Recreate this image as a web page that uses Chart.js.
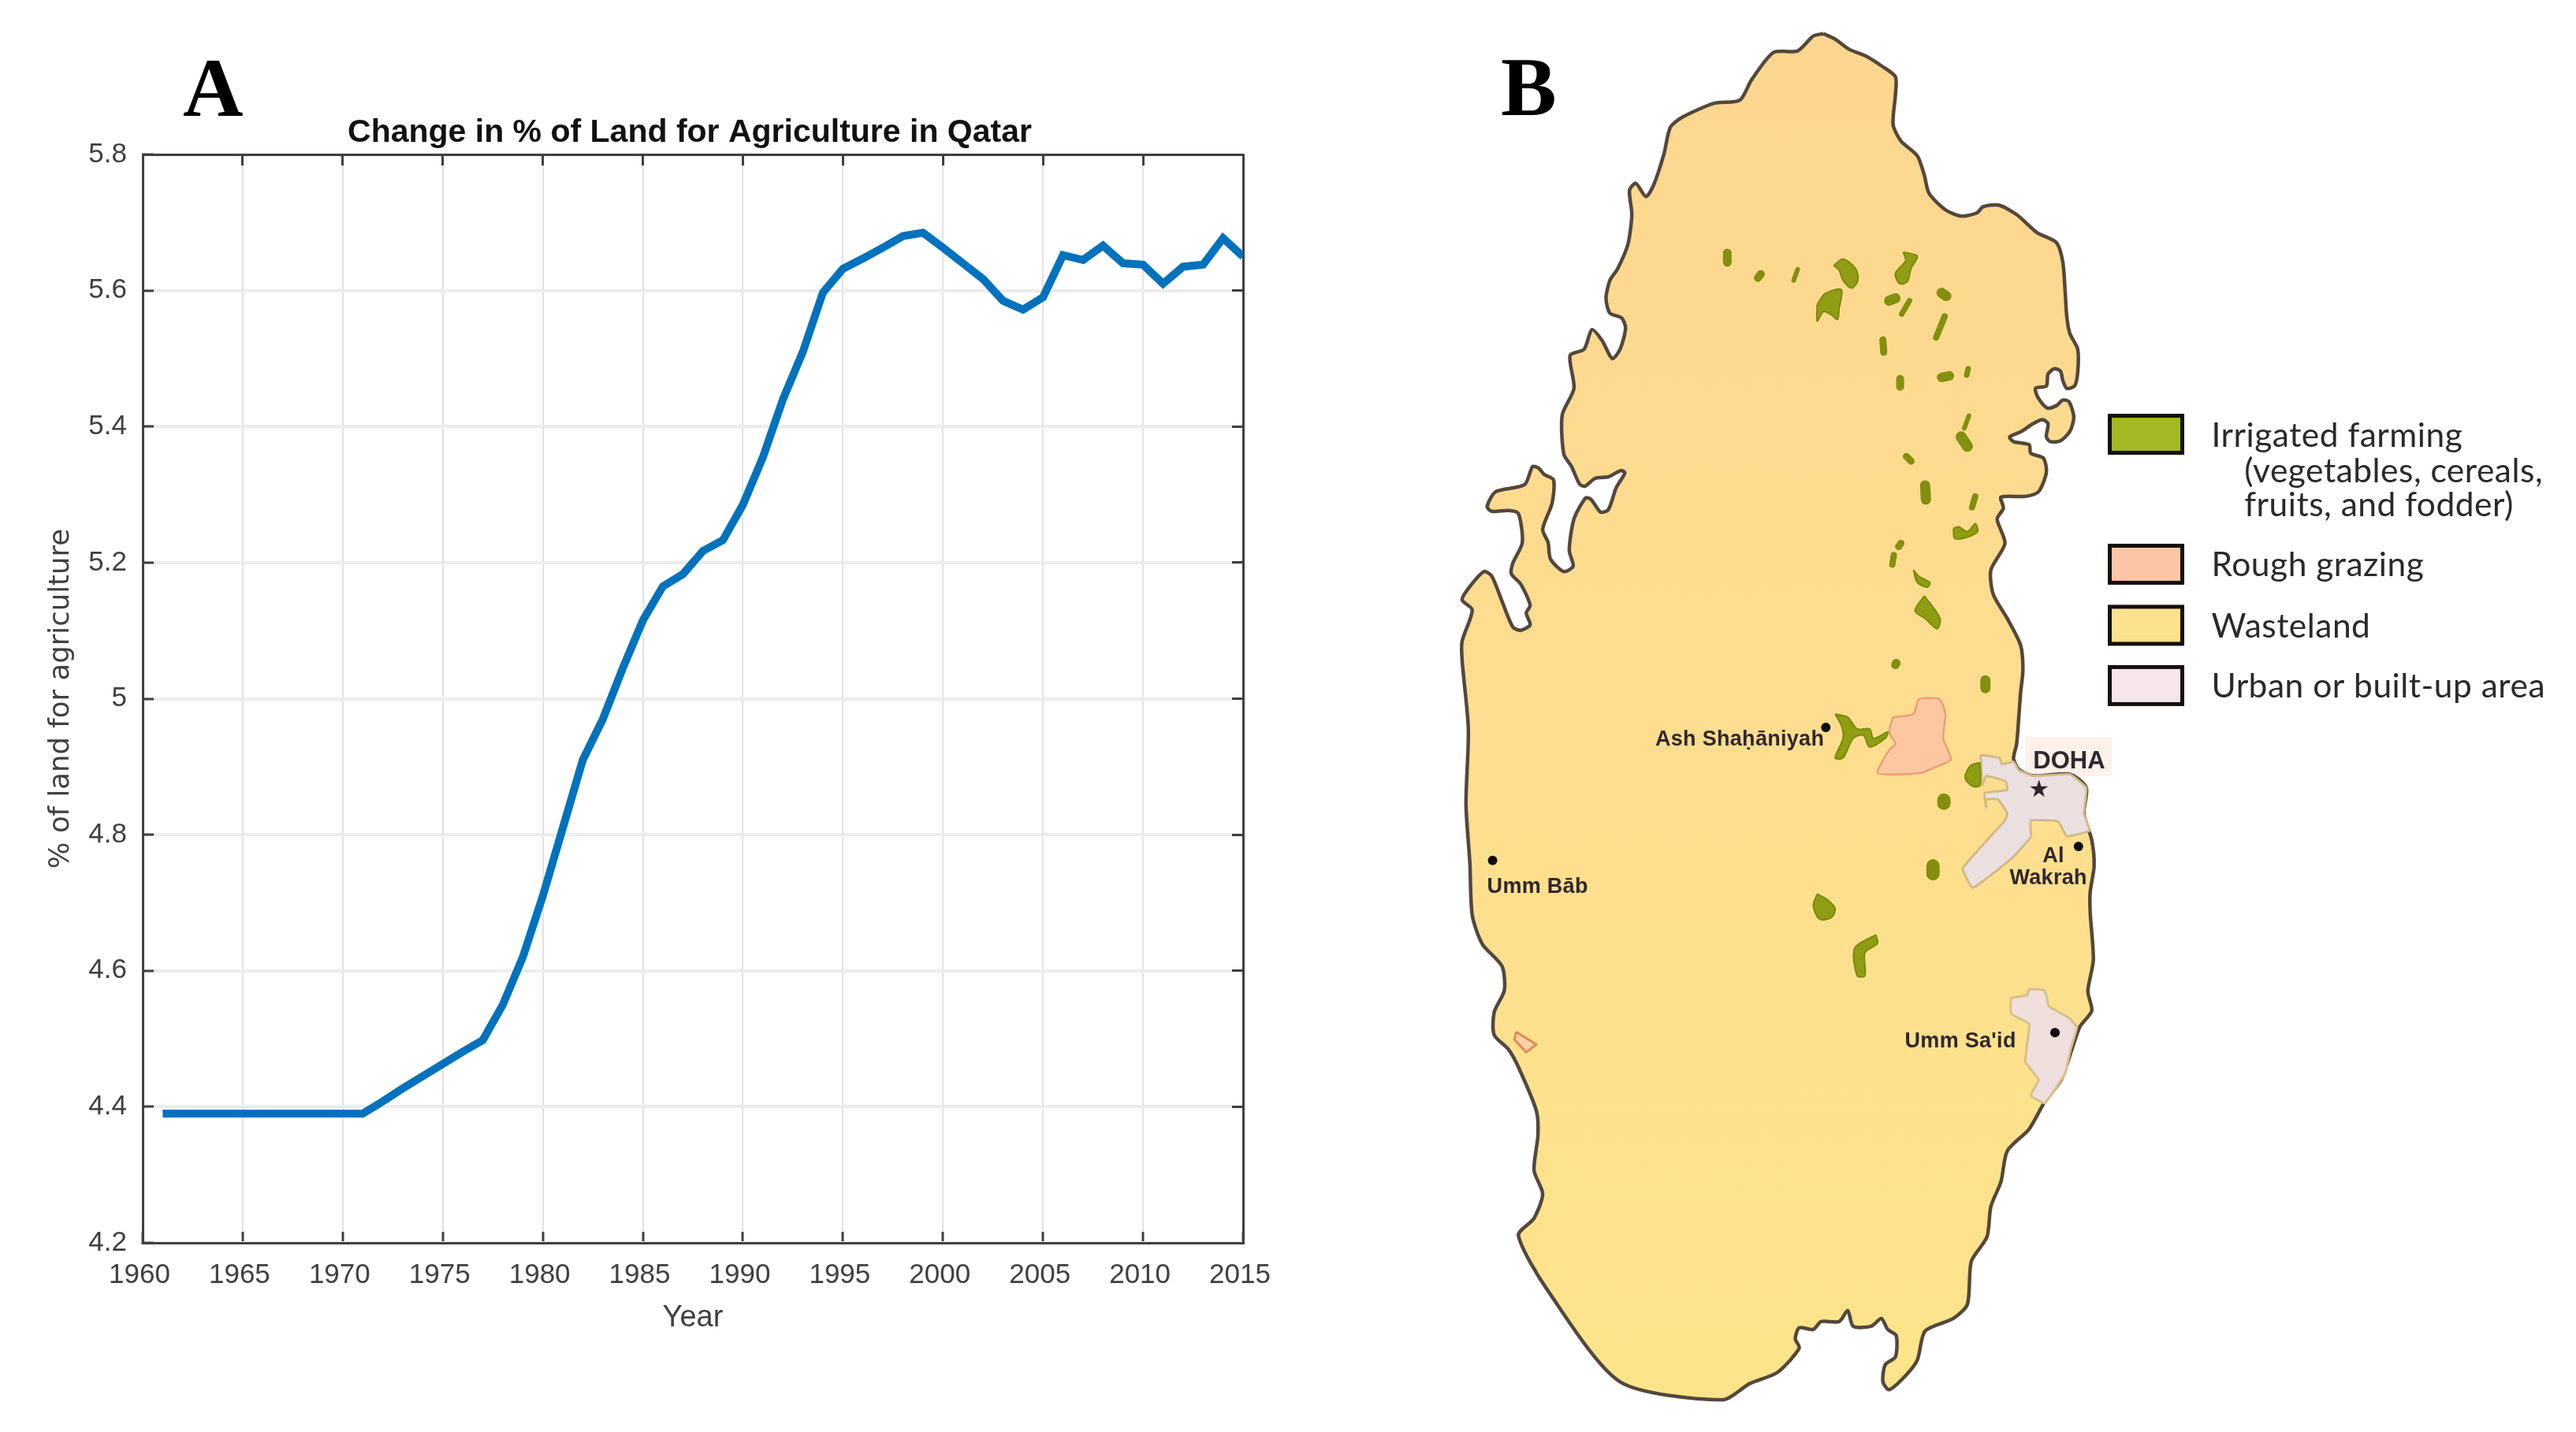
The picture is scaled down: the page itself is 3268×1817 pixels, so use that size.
<!DOCTYPE html>
<html>
<head>
<meta charset="utf-8">
<style>
html,body{margin:0;padding:0;background:#fff;width:3268px;height:1817px;overflow:hidden}
canvas{position:absolute;top:0;display:block}
#a{left:0}
#b{left:1700px}
</style>
<script src="https://cdn.jsdelivr.net/npm/chart.js@4"></script>
</head>
<body>
<canvas id="a" width="1750" height="1817"></canvas>
<canvas id="b" width="1568" height="1817"></canvas>
<script>
// ---------- Panel A data ----------
const years = [1961,1962,1963,1964,1965,1966,1967,1968,1969,1970,1971,1972,1973,1974,1975,1976,1977,1978,1979,1980,1981,1982,1983,1984,1985,1986,1987,1988,1989,1990,1991,1992,1993,1994,1995,1996,1997,1998,1999,2000,2001,2002,2003,2004,2005,2006,2007,2008,2009,2010,2011,2012,2013,2014,2015];
const landPct = [4.39,4.39,4.39,4.39,4.39,4.39,4.39,4.39,4.39,4.39,4.39,4.408,4.427,4.445,4.463,4.481,4.498,4.55,4.62,4.71,4.81,4.91,4.97,5.045,5.115,5.165,5.183,5.217,5.233,5.285,5.355,5.44,5.51,5.597,5.632,5.647,5.663,5.68,5.685,5.663,5.64,5.617,5.585,5.572,5.59,5.652,5.645,5.666,5.64,5.638,5.61,5.635,5.638,5.677,5.65];
const yTickLabels = ["4.2","4.4","4.6","4.8","5","5.2","5.4","5.6","5.8"];
const xTickLabels = ["1960","1965","1970","1975","1980","1985","1990","1995","2000","2005","2010","2015"];
const titleA = "Change in % of Land for Agriculture in Qatar";
const xTitle = "Year";
const yTitle = "% of land for agriculture";

// ---------- Panel B map data (map grid units) ----------
const coast = [[2312,37],[2327,44],[2345,57],[2365,65],[2386,78],[2404,92],[2404,115],[2401,153],[2411,174],[2432,193],[2441,218],[2447,241],[2468,262],[2488,270],[2508,266],[2516,258],[2536,256],[2559,268],[2585,291],[2610,304],[2618,329],[2621,367],[2623,398],[2627,420],[2637,440],[2637,470],[2633,487],[2623,490],[2618,480],[2615,468],[2607,465],[2599,472],[2597,487],[2583,490],[2587,503],[2598,515],[2610,512],[2618,505],[2626,507],[2632,527],[2627,545],[2615,557],[2602,558],[2597,552],[2599,535],[2592,530],[2580,535],[2565,545],[2550,552],[2555,558],[2575,562],[2577,573],[2593,579],[2597,597],[2587,622],[2570,628],[2539,629],[2542,643],[2534,657],[2544,688],[2526,722],[2529,753],[2547,784],[2564,818],[2567,849],[2564,879],[2562,906],[2559,944],[2555,963],[2562,977],[2580,985],[2627,983],[2648,1000],[2645,1033],[2655,1067],[2658,1100],[2653,1133],[2653,1160],[2657,1220],[2650,1260],[2655,1285],[2640,1305],[2631,1330],[2616,1373],[2595,1401],[2575,1436],[2547,1464],[2539,1503],[2526,1535],[2521,1574],[2501,1605],[2496,1660],[2478,1678],[2442,1694],[2432,1731],[2417,1751],[2396,1769],[2388,1759],[2391,1737],[2404,1727],[2405,1700],[2394,1692],[2386,1678],[2373,1688],[2350,1688],[2343,1668],[2332,1682],[2309,1682],[2299,1692],[2281,1690],[2276,1704],[2281,1716],[2253,1747],[2218,1761],[2183,1782],[2052,1759],[1960,1643],[1922,1572],[1942,1550],[1953,1519],[1942,1489],[1947,1444],[1945,1413],[1922,1357],[1909,1334],[1891,1316],[1891,1287],[1904,1259],[1901,1228],[1876,1200],[1863,1163],[1860,1097],[1855,1021],[1858,925],[1850,837],[1850,813],[1863,773],[1850,760],[1860,743],[1878,724],[1888,730],[1903,767],[1915,795],[1925,799],[1937,792],[1932,777],[1937,767],[1925,740],[1913,727],[1915,713],[1927,687],[1922,650],[1910,646],[1888,647],[1882,641],[1893,622],[1930,613],[1940,590],[1948,592],[1955,600],[1967,607],[1965,637],[1953,670],[1960,687],[1963,708],[1980,724],[1992,717],[1987,697],[1993,657],[2008,630],[2015,632],[2027,648],[2037,645],[2047,617],[2058,598],[2053,595],[2037,603],[2020,605],[2007,615],[2000,612],[1990,590],[1980,574],[1978,524],[1993,490],[1988,448],[2006,440],[2016,415],[2029,429],[2042,452],[2052,440],[2059,413],[2054,400],[2039,394],[2034,375],[2039,352],[2049,337],[2062,306],[2067,268],[2064,237],[2072,228],[2085,245],[2095,230],[2108,191],[2116,157],[2131,144],[2172,126],[2205,122],[2220,96],[2248,61],[2279,59],[2299,40],[2312,37]];
const urbanDoha = [[2513,958],[2537,962],[2540,970],[2555,967],[2562,978],[2580,985],[2627,983],[2648,1000],[2645,1033],[2652,1055],[2623,1062],[2612,1043],[2577,1042],[2577,1063],[2553,1090],[2503,1128],[2490,1103],[2543,1043],[2547,1033],[2535,1015],[2520,1015],[2520,1025],[2518,1007],[2547,1003],[2545,992],[2520,985],[2515,997],[2513,958]];
const urbanUmmSaid = [[2575,1257],[2595,1259],[2600,1279],[2626,1294],[2636,1306],[2628,1334],[2621,1365],[2595,1403],[2577,1393],[2587,1373],[2570,1350],[2575,1302],[2552,1289],[2552,1269],[2572,1265],[2575,1257]];
const grazingMain = [[2401,910],[2427,906],[2434,887],[2460,887],[2468,906],[2465,937],[2475,964],[2457,973],[2437,981],[2406,983],[2381,981],[2396,952],[2404,944],[2396,929],[2401,910]];
const grazingWest = [[1919,1312],[1945,1328],[1932,1338],[1917,1322],[1919,1312]];
const farmPatches = [
 [[2325,333],[2337,325],[2353,337],[2356,352],[2348,362],[2337,352],[2332,339],[2325,333]],
 [[2304,383],[2314,369],[2335,364],[2332,388],[2330,402],[2322,396],[2312,392],[2304,404],[2304,383]],
 [[2414,316],[2432,321],[2424,337],[2419,354],[2409,356],[2404,343],[2417,327],[2414,316]],
 [[2478,669],[2485,667],[2496,673],[2506,663],[2509,673],[2496,680],[2480,682],[2478,669]],
 [[2427,722],[2434,730],[2448,738],[2445,744],[2432,738],[2427,722]],
 [[2441,755],[2461,784],[2457,797],[2442,784],[2429,774],[2441,755]],
 [[2327,906],[2343,910],[2355,925],[2371,925],[2376,937],[2394,929],[2391,937],[2371,948],[2363,933],[2350,937],[2337,962],[2327,962],[2337,937],[2335,921],[2327,906]],
 [[2512,968],[2512,997],[2502,998],[2493,987],[2500,972],[2512,968]],
 [[2304,1136],[2317,1143],[2327,1155],[2322,1166],[2307,1168],[2299,1151],[2304,1136]],
 [[2379,1188],[2381,1199],[2365,1211],[2365,1240],[2355,1240],[2352,1205],[2379,1188]]
];
const farmSpots = [[2189,317,2189,329,11],[2228,349,2232,344,10],[2279,338,2274,352,6],[2396,378,2404,375,13],[2422,378,2412,395,7],[2463,368,2469,372,13],[2467,398,2456,425,8],[2388,428,2389,444,9],[2410,478,2410,488,10],[2463,476,2473,474,12],[2497,465,2495,473,7],[2498,525,2492,541,6],[2488,552,2496,564,14],[2418,577,2424,583,9],[2442,614,2443,632,13],[2506,628,2502,642,8],[2411,688,2408,692,9],[2402,703,2400,715,8],[2404,843,2405,841,11],[2519,863,2519,873,13],[2466,1016,2466,1020,17],[2452,1100,2452,1110,17]];
const towns = [[2315,923],[1889,1093],[2638,1075],[2608,1313]];
const placeNames = [
 ["Ash Shaḥāniyah",2097,946],["Umm Bāb",1882,1134],["DOHA",2580,975],["★",2574,1012],
 ["Al",2592,1095],["Wakrah",2550,1123],["Umm Sa'id",2416,1332]
];
const legendRows = [
 ["Irrigated farming",2808,565],["(vegetables, cereals,",2850,610],["fruits, and fodder)",2850,653],
 ["Rough grazing",2808,730],["Wasteland",2808,808],["Urban or built-up area",2808,885]
];
const legendSwatches = [["#a3b822",523],["#fcc5a6",689],["#fde28c",767],["#f6e6ea",844]];

// ---------- Panel A ----------
const panelLetter = (text,x,y,size) => ({
  id:'letter'+text,
  afterDraw(c){const g=c.ctx;g.save();g.font='bold '+size+'px "Liberation Serif"';g.fillStyle='#000';g.textBaseline='alphabetic';g.fillText(text,x,y);g.restore();}
});
const DARK='#404040';
new Chart(document.getElementById('a'),{
  type:'line',
  data:{datasets:[{data:years.map((y,i)=>({x:y,y:landPct[i]})),borderColor:'#0072BD',borderWidth:10,pointRadius:0,tension:0,fill:false,borderJoinStyle:'miter'}]},
  plugins:[panelLetter('A',232,147,106)],
  options:{
    responsive:false,animation:false,devicePixelRatio:1,parsing:false,
    layout:{padding:0},
    plugins:{legend:{display:false},tooltip:{enabled:false},
      title:{display:true,text:titleA,color:'#111',font:{family:'"Liberation Sans"',size:41,weight:'bold',lineHeight:1.2},padding:{top:144.4,bottom:2.4}}},
    scales:{
      x:{type:'linear',position:'bottom',min:1960,max:2015,
        afterFit:s=>{s.height=240;},
        afterBuildTicks:s=>{s.ticks=xTickLabels.map(v=>({value:+v}));},
        grid:{color:'#e2e2e2',lineWidth:2,tickColor:DARK,tickLength:-14,tickWidth:3},
        border:{color:DARK,width:3},
        ticks:{autoSkip:false,maxRotation:0,color:DARK,font:{family:'"Liberation Sans"',size:35},padding:34,labelOffset:-4,callback:v=>String(v)},
        title:{display:true,text:xTitle,color:DARK,font:{family:'"Liberation Sans"',size:38,lineHeight:1.2},padding:{top:0,bottom:122}}},
      y:{type:'linear',position:'left',min:4.2,max:5.8,
        afterFit:s=>{s.width=181;},
        afterBuildTicks:s=>{s.ticks=yTickLabels.map(v=>({value:+v}));},
        grid:{color:'#ececec',lineWidth:4,tickColor:DARK,tickLength:-14,tickWidth:3},
        border:{color:DARK,width:3},
        ticks:{autoSkip:false,color:DARK,font:{family:'"Liberation Sans"',size:35},padding:34,callback:v=>String(+v.toFixed(1))},
        title:{display:true,text:yTitle,color:DARK,font:{family:'"DejaVu Sans"',size:35.5,lineHeight:1.2},padding:{top:56,bottom:0}}},
      x2:{type:'linear',axis:'x',position:'top',min:1960,max:2015,
        afterFit:s=>{s.height=0;},
        afterBuildTicks:s=>{s.ticks=xTickLabels.map(v=>({value:+v}));},
        grid:{drawOnChartArea:false,tickColor:DARK,tickLength:-14,tickWidth:3},
        border:{color:DARK,width:3},ticks:{display:false}},
      y2:{type:'linear',axis:'y',position:'right',min:4.2,max:5.8,
        afterFit:s=>{s.width=173;},
        afterBuildTicks:s=>{s.ticks=yTickLabels.map(v=>({value:+v}));},
        grid:{drawOnChartArea:false,tickColor:DARK,tickLength:-14,tickWidth:3},
        border:{color:DARK,width:3},ticks:{display:false}}
    }
  }
});

// ---------- Panel B ----------
const toPts = a => a.map(p=>({x:p[0],y:p[1]}));
const shape = (pts,fillC,line,w,t) => ({data:toPts(pts),showLine:true,fill:'shape',backgroundColor:fillC,borderColor:line,borderWidth:w,pointRadius:0,tension:t,borderJoinStyle:'round',clip:false});
const landFill = ctx => {
  const g = ctx.chart.ctx.createLinearGradient(0,0,0,1817);
  g.addColorStop(0,'#fdd68f');g.addColorStop(.45,'#fddd90');g.addColorStop(1,'#fee58b');
  return g;
};
const mapSets = [];
// Chart.js paints the first dataset last, so the topmost marks come first.
mapSets.push({data:toPts(towns),showLine:false,pointRadius:6,pointBackgroundColor:'#0c0c0c',pointBorderWidth:0,clip:false});
farmSpots.forEach(s=>mapSets.push({data:[{x:s[0],y:s[1]},{x:s[2],y:s[3]}],showLine:true,fill:false,borderColor:'#838f0e',borderWidth:s[4],borderCapStyle:'round',pointRadius:0,clip:false}));
farmPatches.forEach(p=>mapSets.push(shape(p,'#8f9d14','#7d8a08',2,.3)));
mapSets.push(shape(urbanUmmSaid,'#f0dfdc','#d6c08c',3,.1));
mapSets.push(shape(urbanDoha,'#ecdfe0','#d0bb88',3,.1));
mapSets.push(shape(grazingWest,'#fbd3a4','#df8a55',3,0));
mapSets.push(shape(grazingMain,'#fbc8a2','#ec9f76',2.5,.2));
mapSets.push(shape(coast,landFill,'#54483c',4.5,.25));

const mapText = {
  id:'mapText',
  beforeDatasetsDraw(c){
    const g=c.ctx,sx=c.scales.x,sy=c.scales.y;
    g.save();
    g.fillStyle='#fdf1ea';
    g.fillRect(sx.getPixelForValue(2570),sy.getPixelForValue(935),110,50);
    g.restore();
  },
  afterDraw(c){
    const g=c.ctx,sx=c.scales.x,sy=c.scales.y;
    g.save();
    g.textBaseline='alphabetic';
    placeNames.forEach(([t,x,y])=>{
      let f='bold 27px "Liberation Sans"',ls='0.3px';
      if(t==='DOHA'){f='bold 31px "Liberation Sans"';ls='0px';}
      if(t==='★'){f='30px "DejaVu Sans"';ls='0px';}
      g.font=f;g.letterSpacing=ls;g.fillStyle='#30262c';
      g.fillText(t,sx.getPixelForValue(x),sy.getPixelForValue(y));
    });
    g.letterSpacing='0.5px';
    g.font='42.5px "Lato"';g.fillStyle='#2a2a2a';
    legendRows.forEach(([t,x,y])=>g.fillText(t,sx.getPixelForValue(x),sy.getPixelForValue(y)));
    g.letterSpacing='0px';
    legendSwatches.forEach(([col,y])=>{
      const px=sx.getPixelForValue(2678),py=sy.getPixelForValue(y+2);
      g.fillStyle=col;g.fillRect(px,py,92,47);
      g.strokeStyle='#14100c';g.lineWidth=5;g.strokeRect(px,py,92,47);
    });
    g.restore();
  }
};
new Chart(document.getElementById('b'),{
  type:'scatter',
  data:{datasets:mapSets},
  plugins:[panelLetter('B',1904-1700,146,106),mapText],
  options:{
    responsive:false,animation:false,devicePixelRatio:1,
    layout:{padding:0},
    plugins:{legend:{display:false},tooltip:{enabled:false},title:{display:false}},
    scales:{
      x:{type:'linear',display:false,min:1700,max:3268},
      y:{type:'linear',display:false,min:0,max:1817,reverse:true}
    }
  }
});
</script>
</body>
</html>
